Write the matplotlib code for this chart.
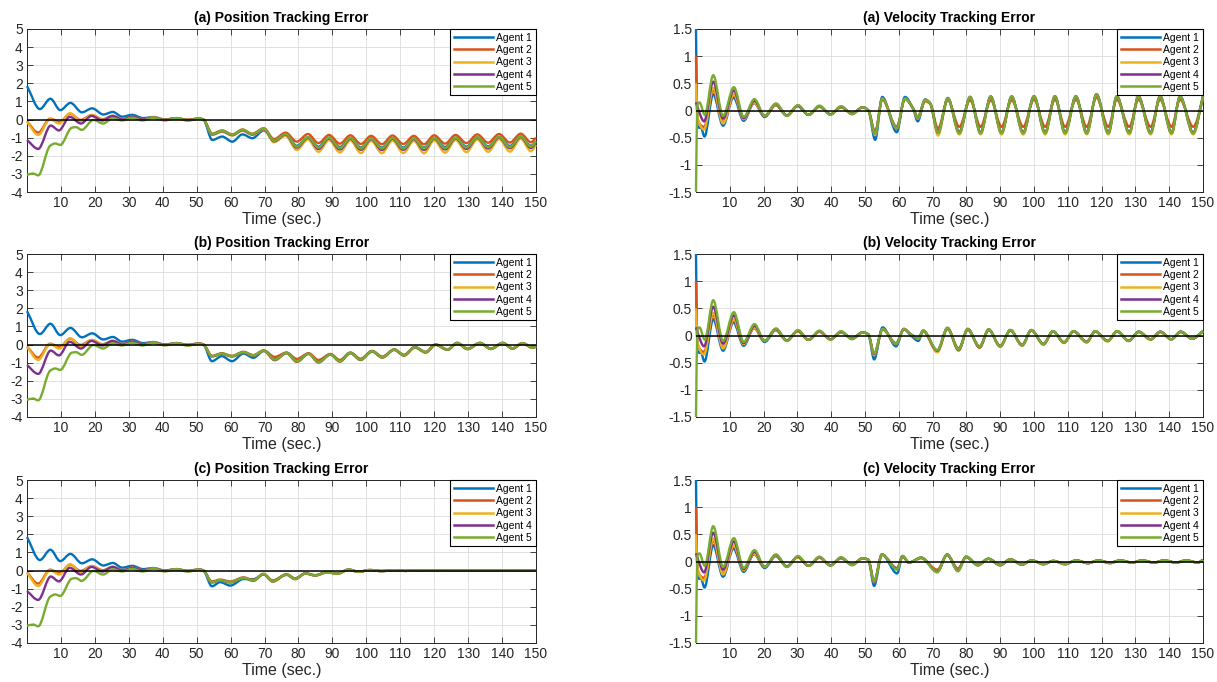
import numpy as np
import matplotlib
matplotlib.use("Agg")
import matplotlib.pyplot as plt
from matplotlib.path import Path
from matplotlib.patches import PathPatch
from matplotlib.lines import Line2D

AGENTS = ["Agent 1", "Agent 2", "Agent 3", "Agent 4", "Agent 5"]
COLORS = ["#0072BD", "#D95319", "#EDB120", "#7E2F8E", "#77AC30"]
CASES = ["(a)", "(b)", "(c)"]

# ---- transient part (t < 51 s), identical in the three cases; peaks / troughs
POS_EARLY_T = [
    [0, 3.8, 6.9, 9.8, 12.8, 16.2, 19.2, 22.5, 25.3, 28.0, 31.0, 34.2, 37.3, 40.6, 44.0, 47.3, 50.8],
    [0, 3.3, 6.8, 9.5, 12.7, 15.8, 19.1, 22.3, 25.3, 28.1, 31.0, 34.2, 37.3, 40.6, 44.0, 47.3, 50.8],
    [0, 3.3, 6.8, 9.5, 12.7, 15.8, 19.1, 22.3, 25.3, 28.1, 31.0, 34.2, 37.3, 40.6, 44.0, 47.3, 50.8],
    [0, 3.3, 7.0, 9.4, 12.6, 15.9, 19.0, 22.2, 25.2, 28.1, 31.0, 34.2, 37.3, 40.6, 44.0, 47.3, 50.8],
    [0, 1.8, 3.3, 6.8, 8.3, 9.8, 13.2, 14.5, 16.1, 19.6, 22.4, 25.3, 28.0, 31.0, 34.0, 37.3, 40.6, 44.0, 47.3, 50.8],
]
POS_EARLY_V = [
    [1.85, 0.58, 1.15, 0.52, 0.92, 0.40, 0.62, 0.28, 0.42, 0.16, 0.26, 0.08, 0.14, 0.0, 0.08, -0.02, 0.06],
    [-0.1, -0.72, 0.05, -0.15, 0.32, -0.02, 0.25, 0.02, 0.2, 0.02, 0.16, 0.02, 0.12, 0.0, 0.08, -0.01, 0.06],
    [-0.12, -0.85, 0.02, -0.22, 0.35, -0.08, 0.25, -0.02, 0.2, 0.0, 0.15, 0.0, 0.12, -0.02, 0.08, -0.02, 0.06],
    [-1.13, -1.62, -0.33, -0.6, 0.15, -0.22, 0.2, -0.05, 0.2, 0.0, 0.15, 0.0, 0.1, -0.02, 0.07, -0.03, 0.05],
    [-3.05, -2.98, -3.08, -1.45, -1.32, -1.4, -0.45, -0.42, -0.57, -0.02, -0.22, 0.07, -0.05, 0.1, -0.05, 0.1, -0.05, 0.08, -0.06, 0.05],
]
VEL_EARLY_T = [
    [0.0, 0.4, 1.0, 1.4, 2.5, 5.1, 8.0, 11.1, 14.1, 17.2, 20.3, 23.6, 26.9, 30.1, 33.3, 36.5, 39.8, 42.9, 46.2, 49.3],
    [0.0, 0.4, 2.4, 5.1, 8.0, 11.2, 14.1, 17.2, 20.3, 23.6, 26.9, 30.1, 33.3, 36.5, 39.8, 42.9, 46.2, 49.3],
    [0.0, 0.4, 2.4, 5.1, 8.0, 11.2, 14.1, 17.2, 20.3, 23.6, 26.9, 30.1, 33.3, 36.5, 39.8, 42.9, 46.2, 49.3],
    [0.0, 0.5, 2.4, 5.1, 8.0, 11.2, 14.1, 17.3, 20.3, 23.6, 26.9, 30.1, 33.3, 36.5, 39.8, 42.9, 46.2, 49.3],
    [0.0, 0.4, 1.0, 2.6, 5.1, 8.0, 11.2, 14.1, 17.3, 20.3, 23.7, 26.9, 30.2, 33.3, 36.5, 39.8, 42.9, 46.2, 49.3],
]
VEL_EARLY_V = [
    [1.5, -0.27, -0.32, -0.3, -0.48, 0.3, -0.28, 0.24, -0.19, 0.14, -0.12, 0.1, -0.1, 0.08, -0.08, 0.07, -0.07, 0.06, -0.06, 0.06],
    [1.0, -0.15, -0.3, 0.38, -0.22, 0.28, -0.15, 0.14, -0.1, 0.1, -0.09, 0.08, -0.08, 0.07, -0.07, 0.06, -0.06, 0.06],
    [0.5, -0.1, -0.35, 0.42, -0.24, 0.3, -0.16, 0.15, -0.1, 0.11, -0.09, 0.08, -0.08, 0.07, -0.07, 0.06, -0.06, 0.06],
    [0.15, 0.05, -0.2, 0.53, -0.15, 0.37, -0.14, 0.18, -0.1, 0.12, -0.09, 0.09, -0.08, 0.08, -0.07, 0.07, -0.06, 0.06],
    [-1.5, 0.1, 0.15, -0.08, 0.65, -0.1, 0.43, -0.12, 0.21, -0.1, 0.13, -0.1, 0.1, -0.08, 0.09, -0.08, 0.08, -0.07, 0.06],
]

# ---- after the disturbance at t ~ 51 s, one run per case
POS_A_T = [52.0, 54.6, 57.5, 60.5, 63.5, 66.4, 69.8, 72.8, 76.2, 79.5, 82.8, 85.9, 89.0, 92.2, 95.3, 98.4, 101.4,
           104.6, 107.7, 110.9, 114.0, 117.0, 120.0, 123.2, 126.3, 129.5, 132.7, 135.9, 139.1, 142.3, 145.5, 148.5, 150.0]
POS_A_V = [
    [0.0, -1.13, -0.94, -1.22, -0.82, -1.03, -0.6, -1.15, -0.8, -1.45, -0.98, -1.5, -1.0, -1.52, -1.02, -1.55, -1.05,
     -1.55, -1.03, -1.55, -1.05, -1.55, -1.02, -1.52, -1.0, -1.5, -0.98, -1.48, -0.96, -1.46, -0.94, -1.45, -1.2],
    [0.0, -0.78, -0.6, -0.82, -0.55, -0.78, -0.48, -1.08, -0.72, -1.22, -0.8, -1.3, -0.85, -1.33, -0.87, -1.35, -0.9,
     -1.36, -0.88, -1.35, -0.9, -1.36, -0.87, -1.33, -0.85, -1.3, -0.82, -1.28, -0.8, -1.27, -0.78, -1.25, -1.0],
    [0.0, -0.85, -0.68, -0.88, -0.62, -0.85, -0.55, -1.25, -0.9, -1.68, -1.1, -1.78, -1.13, -1.82, -1.15, -1.85, -1.18,
     -1.86, -1.16, -1.85, -1.18, -1.86, -1.15, -1.83, -1.13, -1.8, -1.1, -1.78, -1.08, -1.77, -1.06, -1.75, -1.4],
    [0.0, -0.82, -0.64, -0.86, -0.59, -0.82, -0.52, -1.2, -0.82, -1.55, -1.0, -1.62, -1.04, -1.65, -1.06, -1.67, -1.08,
     -1.68, -1.06, -1.67, -1.08, -1.68, -1.05, -1.65, -1.03, -1.62, -1.0, -1.6, -0.98, -1.58, -0.96, -1.57, -1.25],
    [0.0, -0.8, -0.62, -0.84, -0.57, -0.8, -0.5, -1.17, -0.8, -1.5, -0.97, -1.55, -1.0, -1.58, -1.02, -1.6, -1.04,
     -1.6, -1.02, -1.6, -1.04, -1.6, -1.02, -1.58, -1.0, -1.55, -0.97, -1.53, -0.95, -1.52, -0.93, -1.5, -1.2],
]
POS_B_T = [52.0, 54.5, 57.4, 60.4, 63.8, 66.7, 69.8, 73.0, 76.5, 79.5, 83.0, 85.9, 89.4, 92.2, 95.3, 98.3, 101.7,
           104.7, 108.2, 111.1, 114.3, 117.5, 120.4, 123.9, 126.8, 129.8, 133.5, 136.7, 140.2, 143.1, 146.0, 149.0, 150.0]
POS_B_V = [
    [0.0, -0.92, -0.64, -0.92, -0.5, -0.73, -0.36, -0.8, -0.46, -0.9, -0.5, -0.95, -0.54, -0.9, -0.46, -0.82, -0.37,
     -0.7, -0.28, -0.58, -0.15, -0.42, 0.0, -0.28, 0.09, -0.24, 0.09, -0.24, 0.09, -0.22, 0.08, -0.18, -0.1],
    [0.0, -0.62, -0.48, -0.62, -0.4, -0.58, -0.32, -0.68, -0.44, -0.79, -0.48, -0.85, -0.52, -0.85, -0.44, -0.78, -0.35,
     -0.66, -0.27, -0.56, -0.14, -0.4, 0.0, -0.26, 0.09, -0.22, 0.09, -0.22, 0.09, -0.2, 0.08, -0.17, -0.1],
    [0.0, -0.66, -0.52, -0.66, -0.44, -0.62, -0.35, -0.87, -0.48, -0.96, -0.52, -1.0, -0.56, -0.95, -0.48, -0.86, -0.39,
     -0.73, -0.3, -0.62, -0.17, -0.45, -0.02, -0.3, 0.08, -0.26, 0.08, -0.25, 0.08, -0.23, 0.07, -0.19, -0.11],
    [0.0, -0.65, -0.51, -0.65, -0.43, -0.61, -0.34, -0.85, -0.47, -0.94, -0.51, -0.98, -0.55, -0.93, -0.47, -0.84, -0.38,
     -0.71, -0.29, -0.6, -0.16, -0.43, -0.01, -0.29, 0.08, -0.25, 0.08, -0.24, 0.08, -0.22, 0.07, -0.18, -0.1],
    [0.0, -0.64, -0.5, -0.64, -0.42, -0.6, -0.33, -0.83, -0.46, -0.92, -0.5, -0.97, -0.55, -0.92, -0.46, -0.83, -0.37,
     -0.7, -0.28, -0.59, -0.15, -0.42, 0.0, -0.28, 0.09, -0.24, 0.09, -0.24, 0.09, -0.22, 0.08, -0.18, -0.1],
]
POS_C_T = [52.0, 54.5, 56.9, 59.9, 63.8, 66.7, 69.7, 72.4, 76.5, 79.0, 82.0, 85.0, 88.4, 91.4,
           94.8, 97.7, 101.0, 104.5, 108.0, 111.5, 115.0, 120.0, 125.0, 130.0, 135.0, 140.0, 145.0, 150.0]
POS_C_V = [
    [0.0, -0.87, -0.64, -0.83, -0.47, -0.48, -0.22, -0.55, -0.24, -0.44, -0.17, -0.26, -0.09, -0.17,
     0.04, -0.06, 0.02, -0.02, 0.01, -0.01, 0.0, 0.0, 0.0, 0.0, 0.0, 0.0, 0.0, 0.0],
    [0.0, -0.6, -0.5, -0.6, -0.38, -0.52, -0.18, -0.55, -0.2, -0.43, -0.15, -0.25, -0.08, -0.16,
     0.06, -0.06, 0.03, -0.03, 0.02, -0.02, 0.01, -0.01, 0.01, 0.0, 0.01, 0.0, 0.01, 0.0],
    [0.0, -0.66, -0.55, -0.66, -0.42, -0.57, -0.2, -0.62, -0.23, -0.48, -0.17, -0.28, -0.1, -0.19,
     0.05, -0.08, 0.03, -0.03, 0.02, -0.02, 0.01, -0.01, 0.01, 0.0, 0.01, 0.0, 0.01, 0.0],
    [0.0, -0.65, -0.54, -0.65, -0.41, -0.56, -0.2, -0.6, -0.22, -0.47, -0.16, -0.27, -0.09, -0.18,
     0.05, -0.07, 0.03, -0.03, 0.02, -0.02, 0.01, -0.01, 0.01, 0.0, 0.01, 0.0, 0.01, 0.0],
    [0.0, -0.64, -0.53, -0.64, -0.4, -0.55, -0.19, -0.59, -0.22, -0.46, -0.16, -0.27, -0.09, -0.18,
     0.06, -0.07, 0.03, -0.03, 0.02, -0.02, 0.01, -0.01, 0.01, 0.0, 0.01, 0.0, 0.01, 0.0],
]

VEL_A_T = [51.0, 53.0, 55.1, 59.4, 61.8, 64.3, 65.6, 67.8, 69.3, 71.6, 74.5, 77.9, 81.1, 84.2, 87.2, 90.4, 93.4, 96.8,
           100.0, 103.3, 106.2, 109.2, 112.4, 115.6, 118.5, 122.0, 124.5, 128.2, 130.9, 134.5, 137.3, 140.7, 143.2, 147.1, 150.0]
VEL_A_V = [
    [0.0, -0.54, 0.25, -0.4, 0.25, 0.02, -0.2, 0.2, 0.13, -0.4, 0.22, -0.4, 0.24, -0.41, 0.25, -0.41, 0.25, -0.41,
     0.26, -0.41, 0.26, -0.41, 0.26, -0.41, 0.29, -0.41, 0.26, -0.41, 0.26, -0.41, 0.26, -0.41, 0.26, -0.41, 0.26],
    [0.0, -0.4, 0.2, -0.3, 0.21, 0.03, -0.13, 0.17, 0.12, -0.33, 0.19, -0.3, 0.19, -0.3, 0.19, -0.3, 0.19, -0.3,
     0.2, -0.3, 0.2, -0.3, 0.2, -0.3, 0.24, -0.3, 0.2, -0.3, 0.2, -0.3, 0.2, -0.3, 0.2, -0.3, 0.2],
    [0.0, -0.45, 0.22, -0.33, 0.22, 0.03, -0.15, 0.19, 0.13, -0.46, 0.22, -0.44, 0.25, -0.44, 0.25, -0.44, 0.25, -0.44,
     0.26, -0.44, 0.26, -0.44, 0.26, -0.44, 0.29, -0.44, 0.26, -0.44, 0.26, -0.44, 0.26, -0.44, 0.26, -0.44, 0.26],
    [0.0, -0.42, 0.22, -0.33, 0.22, 0.03, -0.13, 0.2, 0.13, -0.41, 0.23, -0.41, 0.25, -0.41, 0.26, -0.41, 0.26, -0.41,
     0.26, -0.41, 0.26, -0.41, 0.26, -0.41, 0.3, -0.41, 0.26, -0.41, 0.26, -0.41, 0.26, -0.41, 0.26, -0.41, 0.26],
    [0.0, -0.42, 0.22, -0.33, 0.22, 0.03, -0.13, 0.2, 0.13, -0.41, 0.23, -0.42, 0.25, -0.42, 0.26, -0.42, 0.26, -0.42,
     0.26, -0.42, 0.26, -0.42, 0.26, -0.42, 0.3, -0.42, 0.26, -0.42, 0.26, -0.42, 0.26, -0.42, 0.26, -0.42, 0.26],
]
VEL_B_T = [51.0, 52.7, 55.2, 59.2, 61.5, 63.6, 65.8, 67.2, 71.4, 74.4, 77.7, 80.4, 83.9, 86.6, 90.0, 93.0, 96.5,
           99.2, 102.8, 105.6, 108.9, 111.7, 115.6, 118.1, 121.8, 124.6, 128.0, 131.0, 134.5, 137.4, 140.6, 143.4, 146.8, 150.0]
VEL_B_V = [
    [0.02, -0.44, 0.15, -0.2, 0.12, 0.0, -0.1, 0.09, -0.28, 0.13, -0.26, 0.12, -0.21, 0.11, -0.2, 0.1, -0.18,
     0.1, -0.16, 0.08, -0.13, 0.08, -0.12, 0.08, -0.1, 0.08, -0.1, 0.07, -0.07, 0.07, -0.07, 0.07, -0.06, 0.08],
    [0.02, -0.36, 0.11, -0.14, 0.11, 0.02, -0.05, 0.08, -0.3, 0.12, -0.24, 0.1, -0.2, 0.1, -0.19, 0.09, -0.17,
     0.09, -0.15, 0.07, -0.12, 0.07, -0.11, 0.07, -0.1, 0.07, -0.09, 0.06, -0.07, 0.06, -0.07, 0.06, -0.06, 0.07],
    [0.02, -0.36, 0.12, -0.16, 0.12, 0.02, -0.06, 0.09, -0.31, 0.14, -0.28, 0.12, -0.23, 0.11, -0.21, 0.1, -0.19,
     0.1, -0.17, 0.08, -0.14, 0.08, -0.13, 0.08, -0.11, 0.08, -0.1, 0.07, -0.08, 0.07, -0.07, 0.07, -0.06, 0.08],
    [0.02, -0.34, 0.12, -0.15, 0.12, 0.02, -0.05, 0.09, -0.28, 0.14, -0.27, 0.12, -0.22, 0.11, -0.2, 0.1, -0.18,
     0.1, -0.16, 0.08, -0.13, 0.08, -0.12, 0.08, -0.1, 0.08, -0.1, 0.07, -0.07, 0.07, -0.07, 0.07, -0.06, 0.08],
    [0.02, -0.33, 0.12, -0.15, 0.12, 0.02, -0.05, 0.09, -0.27, 0.14, -0.26, 0.12, -0.21, 0.11, -0.2, 0.1, -0.18,
     0.1, -0.16, 0.08, -0.13, 0.08, -0.12, 0.08, -0.1, 0.08, -0.1, 0.07, -0.07, 0.07, -0.07, 0.07, -0.06, 0.08],
]
VEL_C_T = [51.0, 52.7, 55.0, 59.5, 61.1, 63.0, 66.6, 71.4, 74.3, 77.5, 79.9, 83.4, 86.5, 90.0, 93.0, 96.4, 99.3,
           102.8, 105.7, 109.2, 112.5, 116.0, 119.0, 122.5, 125.5, 129.0, 132.0, 135.5, 138.5, 142.0, 145.0, 148.5, 150.0]
VEL_C_V = [
    [0.03, -0.45, 0.13, -0.22, 0.1, -0.02, 0.07, -0.17, 0.12, -0.14, 0.08, -0.06, 0.05, -0.06, 0.04, -0.05, 0.02,
     -0.04, 0.01, -0.04, 0.02, -0.03, 0.02, -0.02, 0.02, -0.02, 0.02, -0.02, 0.02, -0.02, 0.02, -0.02, 0.03],
    [0.03, -0.38, 0.12, -0.12, 0.09, -0.02, 0.06, -0.15, 0.12, -0.13, 0.08, -0.06, 0.05, -0.06, 0.04, -0.05, 0.02,
     -0.04, 0.01, -0.04, 0.02, -0.03, 0.02, -0.02, 0.02, -0.02, 0.02, -0.02, 0.02, -0.02, 0.02, -0.02, 0.03],
    [0.03, -0.38, 0.13, -0.14, 0.1, -0.02, 0.07, -0.18, 0.13, -0.16, 0.09, -0.07, 0.05, -0.07, 0.04, -0.06, 0.02,
     -0.05, 0.01, -0.05, 0.02, -0.03, 0.02, -0.03, 0.02, -0.02, 0.02, -0.02, 0.02, -0.02, 0.02, -0.02, 0.03],
    [0.03, -0.37, 0.13, -0.14, 0.1, -0.02, 0.07, -0.19, 0.13, -0.17, 0.09, -0.07, 0.05, -0.07, 0.04, -0.06, 0.02,
     -0.05, 0.01, -0.05, 0.02, -0.03, 0.02, -0.03, 0.02, -0.02, 0.02, -0.02, 0.02, -0.02, 0.02, -0.02, 0.03],
    [0.03, -0.36, 0.13, -0.15, 0.1, -0.02, 0.07, -0.2, 0.13, -0.18, 0.09, -0.07, 0.05, -0.07, 0.04, -0.06, 0.02,
     -0.05, 0.01, -0.05, 0.02, -0.03, 0.02, -0.03, 0.02, -0.02, 0.02, -0.02, 0.02, -0.02, 0.02, -0.02, 0.03],
]

POS_TICKS = [-4, -3, -2, -1, 0, 1, 2, 3, 4, 5]
VEL_TICKS = [-1.5, -1, -0.5, 0, 0.5, 1, 1.5]
TIME_TICKS = list(range(10, 151, 10))


def smooth_path(t, v):
    """Monotone cubic (pchip-style) path through the read-off extrema, drawn as Bezier segments."""
    t = np.asarray(t, float)
    v = np.asarray(v, float)
    h = np.diff(t)
    d = np.diff(v) / h
    m = np.zeros_like(v)
    m[0], m[-1] = d[0], d[-1]
    for k in range(1, len(v) - 1):
        if d[k - 1] * d[k] > 0:
            w1 = 2 * h[k] + h[k - 1]
            w2 = h[k] + 2 * h[k - 1]
            m[k] = (w1 + w2) / (w1 / d[k - 1] + w2 / d[k])
    verts = [(t[0], v[0])]
    codes = [Path.MOVETO]
    for k in range(len(h)):
        verts += [(t[k] + h[k] / 3, v[k] + m[k] * h[k] / 3),
                  (t[k + 1] - h[k] / 3, v[k + 1] - m[k + 1] * h[k] / 3),
                  (t[k + 1], v[k + 1])]
        codes += [Path.CURVE4] * 3
    return Path(verts, codes)


def draw_panel(ax, early_t, early_v, post_t, post_v, ylim, yticks, title):
    for i in range(len(AGENTS)):
        t = list(early_t[i]) + list(post_t)
        v = list(early_v[i]) + list(post_v[i])
        # not clipped, so the jump at t = 0 shows on top of the left spine as in the original
        ax.add_patch(PathPatch(smooth_path(t, v), facecolor="none", edgecolor=COLORS[i],
                               lw=1.7, joinstyle="round", capstyle="butt", zorder=2.6,
                               clip_on=False))
    ax.axhline(0, color="black", lw=1.1, zorder=3)
    ax.set_xlim(0, 150)
    ax.set_ylim(*ylim)
    ax.set_xticks(TIME_TICKS)
    ax.set_yticks(yticks)
    ax.set_yticklabels([f"{y:g}" for y in yticks])
    ax.grid(True, color="#dcdcdc", lw=0.6)
    ax.set_axisbelow(True)
    ax.tick_params(direction="in", top=True, right=True, length=4, width=0.6,
                   labelsize=10, color="#262626", labelcolor="#262626", pad=3)
    for s in ax.spines.values():
        s.set_color("#262626")
        s.set_linewidth(0.7)
    ax.set_title(title, fontsize=10, fontweight="bold", pad=5)
    ax.set_xlabel("Time (sec.)", fontsize=11.5, labelpad=1, color="#262626")
    handles = [Line2D([0], [0], color=c, lw=1.8) for c in COLORS]
    leg = ax.legend(handles, AGENTS, loc="upper right", fontsize=7.5, fancybox=False,
                    edgecolor="black", framealpha=1, borderaxespad=0, handlelength=3.8,
                    labelspacing=0.22, borderpad=0.35, handletextpad=0.3)
    leg.set_zorder(5)
    leg.get_frame().set_linewidth(0.8)


def plot_tracking_errors(output_path):
    print("Generating tracking error figure...")
    plt.rcParams["font.family"] = ["Liberation Sans", "DejaVu Sans"]
    plt.rcParams["axes.unicode_minus"] = False

    W, H = 1217.0, 682.0
    fig = plt.figure(figsize=(W / 100, H / 100), dpi=100)
    tops = [29, 254, 480]
    pos_post = [(POS_A_T, POS_A_V), (POS_B_T, POS_B_V), (POS_C_T, POS_C_V)]
    vel_post = [(VEL_A_T, VEL_A_V), (VEL_B_T, VEL_B_V), (VEL_C_T, VEL_C_V)]

    for r, tag in enumerate(CASES):
        bottom = 1 - (tops[r] + 163) / H
        ax_p = fig.add_axes([27 / W, bottom, 509 / W, 163 / H])
        draw_panel(ax_p, POS_EARLY_T, POS_EARLY_V, *pos_post[r], (-4, 5), POS_TICKS,
                   f"{tag} Position Tracking Error")
        ax_v = fig.add_axes([696 / W, bottom, 507 / W, 163 / H])
        draw_panel(ax_v, VEL_EARLY_T, VEL_EARLY_V, *vel_post[r], (-1.5, 1.5), VEL_TICKS,
                   f"{tag} Velocity Tracking Error")

    fig.savefig(output_path, dpi=100, facecolor="white")
    print(f"Plot saved to {output_path}")
    plt.close(fig)


if __name__ == "__main__":
    plot_tracking_errors("out.png")
